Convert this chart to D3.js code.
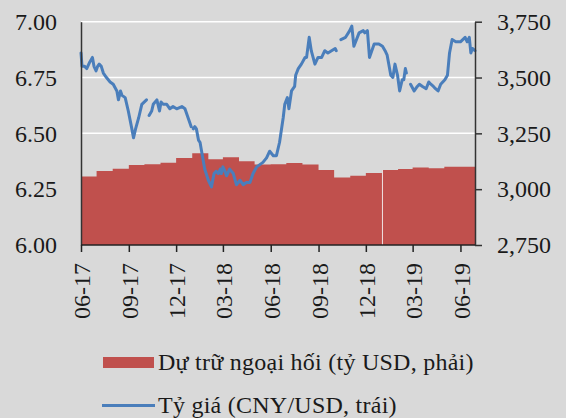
<!DOCTYPE html>
<html lang="vi">
<head>
<meta charset="UTF-8">
<title>Tỷ giá và dự trữ ngoại hối</title>
<script src="https://d3js.org/d3.v7.min.js"></script>
<style>
  body { margin: 0; background: #d9d9d9; }
  svg text { font-family: "Liberation Serif", serif; fill: #1a1a1a; }
</style>
</head>
<body>
<svg id="chart" width="566" height="418"></svg>
<script>
// du tru ngoai hoi cuoi thang (ty USD, truc phai)
var reserveMonths = ["2017-06","2017-07","2017-08","2017-09","2017-10","2017-11","2017-12",
  "2018-01","2018-02","2018-03","2018-04","2018-05","2018-06","2018-07","2018-08","2018-09",
  "2018-10","2018-11","2018-12","2019-01","2019-02","2019-03","2019-04","2019-05","2019-06"];
var reserveValues = [3057,3081,3092,3108,3112,3118,3140,3161,3134,3143,3125,3111,3112,3117,
  3111,3086,3052,3060,3072,3086,3090,3097,3094,3100,3100];
var reserveGaps = ["2019-01-01"];

// ty gia CNY/USD (truc trai), null = dut quang
var rateDates = ["2017-06-01","2017-06-03","2017-06-08","2017-06-12","2017-06-18","2017-06-23",
  "2017-06-26","2017-06-30","2017-07-03","2017-07-06","2017-07-10","2017-07-14","2017-07-20",
  "2017-07-27","2017-08-02","2017-08-09","2017-08-12","2017-08-16","2017-08-19","2017-08-25",
  "2017-08-31","2017-09-06","2017-09-10","2017-09-14","2017-09-20","2017-09-26","2017-10-05",
  "2017-10-07","2017-10-10","2017-10-15","2017-10-18","2017-10-25","2017-10-30","2017-11-02",
  "2017-11-06","2017-11-13","2017-11-19","2017-11-25","2017-12-02","2017-12-12","2017-12-18",
  "2017-12-24","2017-12-30","2018-01-01","2018-01-03","2018-01-06","2018-01-09","2018-01-13",
  "2018-01-16","2018-01-19","2018-01-25","2018-02-01","2018-02-07","2018-02-12","2018-02-16",
  "2018-02-20","2018-02-24","2018-02-26","2018-03-01","2018-03-05","2018-03-08","2018-03-14",
  "2018-03-21","2018-03-27","2018-04-03","2018-04-09","2018-04-15","2018-04-22","2018-04-28",
  "2018-05-05","2018-05-11","2018-05-17","2018-05-24","2018-05-30","2018-06-06","2018-06-12",
  "2018-06-18","2018-06-25","2018-06-28","2018-07-03","2018-07-06","2018-07-11","2018-07-17",
  "2018-07-19","2018-07-24","2018-07-30","2018-08-06","2018-08-09","2018-08-14","2018-08-18",
  "2018-08-25","2018-08-31","2018-09-07","2018-09-13","2018-09-19","2018-09-26","2018-10-03",
  "2018-10-05","2018-10-07","2018-10-14","2018-10-23","2018-10-31","2018-11-04","2018-11-08",
  "2018-11-18","2018-11-26","2018-11-29","2018-12-04","2018-12-08","2018-12-17","2018-12-26",
  "2019-01-02","2019-01-07","2019-01-11","2019-01-18","2019-01-22","2019-01-26","2019-01-31",
  "2019-02-04","2019-02-09","2019-02-12","2019-02-15","2019-02-17","2019-02-19","2019-02-25",
  "2019-03-04","2019-03-10","2019-03-14","2019-03-20","2019-03-27","2019-04-01","2019-04-05",
  "2019-04-10","2019-04-14","2019-04-19","2019-04-24","2019-05-02","2019-05-07","2019-05-11",
  "2019-05-16","2019-05-23","2019-06-01","2019-06-10","2019-06-14","2019-06-18","2019-06-21",
  "2019-06-24","2019-06-29"];
var rateValues = [6.86,6.80,6.80,6.79,6.82,6.84,
  6.80,6.78,6.80,6.81,6.80,6.77,6.75,
  6.73,6.72,6.69,6.65,6.69,6.67,6.66,
  6.60,6.53,6.48,6.52,6.57,6.63,6.65,
  null,6.58,6.60,6.63,6.65,6.60,6.64,
  6.63,6.63,6.61,6.62,6.61,6.62,6.61,
  6.57,6.53,null,6.52,6.53,6.52,6.47,
  6.46,6.42,6.34,6.29,6.26,6.32,6.33,
  6.32,6.34,6.32,6.35,6.33,6.31,6.34,
  6.32,6.27,6.29,6.27,6.28,6.28,6.32,
  6.35,6.36,6.37,6.39,6.42,6.40,6.40,
  6.46,6.57,6.63,6.66,6.61,6.69,6.71,
  6.76,6.79,6.81,6.84,6.84,6.93,6.87,
  6.81,6.84,6.84,6.87,6.86,6.87,6.88,
  6.87,null,6.92,6.93,6.96,6.98,6.89,
  6.95,6.96,6.95,6.96,6.84,6.90,6.90,
  6.89,6.87,6.85,6.76,6.75,6.81,6.76,
  6.69,6.74,6.74,6.79,6.77,null,6.72,
  6.69,6.71,6.72,6.71,6.70,6.73,6.72,
  6.71,6.70,6.69,6.72,6.74,6.76,6.86,
  6.92,6.91,6.91,6.93,6.91,6.93,6.86,
  6.88,6.87];

var leftTicks = [6.00, 6.25, 6.50, 6.75, 7.00];
var rightTicks = [2750, 3000, 3250, 3500, 3750];
var xTickLabels = ["06-17","09-17","12-17","03-18","06-18","09-18","12-18","03-19","06-19"];
var legendLabels = ["Dự trữ ngoại hối (tỷ USD, phải)", "Tỷ giá (CNY/USD, trái)"];

var barColor = "#c0504d", lineColor = "#4a7ebb";
var m = {left: 81, right: 475, top: 21.7, bottom: 245};

var parseDay = d3.timeParse("%Y-%m-%d");
var parseMonth = d3.timeParse("%Y-%m");
var parseTick = d3.timeParse("%m-%y");

var svg = d3.select("#chart");

var x = d3.scaleTime()
    .domain([parseDay("2017-06-01"), parseDay("2019-06-29")])
    .range([m.left, m.right]);
var yL = d3.scaleLinear().domain([6, 7]).range([m.bottom, m.top]);
var yR = d3.scaleLinear().domain([2750, 3750]).range([m.bottom, m.top]);

// luoi ngang
svg.append("g")
    .selectAll("line")
    .data(leftTicks.slice(1))
    .join("line")
    .attr("x1", m.left).attr("x2", m.right)
    .attr("y1", d => yL(d)).attr("y2", d => yL(d))
    .attr("stroke", "#ffffff")
    .attr("stroke-width", 1.5);

// vung du tru: bac thang theo thang
var steps = reserveMonths.map((s, i) => ({date: parseMonth(s), value: reserveValues[i]}));
steps.push({date: x.domain()[1], value: reserveValues[reserveValues.length - 1]});
var area = d3.area()
    .curve(d3.curveStepAfter)
    .x(d => x(d.date))
    .y0(m.bottom)
    .y1(d => yR(d.value));
svg.append("path")
    .datum(steps)
    .attr("d", area)
    .attr("fill", barColor);

// khe trang trong vung du tru
svg.append("g")
    .selectAll("line")
    .data(reserveGaps)
    .join("line")
    .attr("x1", d => x(parseDay(d)) + 0.5)
    .attr("x2", d => x(parseDay(d)) + 0.5)
    .attr("y1", function(d) {
        var s = steps.filter(s => s.date <= parseDay(d)).pop();
        return yR(s.value);
    })
    .attr("y2", m.bottom)
    .attr("stroke", "#efe2e2")
    .attr("stroke-width", 1);

// duong ty gia
var rates = rateDates.map((s, i) => ({date: parseDay(s), value: rateValues[i]}));
var line = d3.line()
    .defined(d => d.value !== null)
    .x(d => x(d.date))
    .y(d => yL(d.value));
svg.append("path")
    .datum(rates)
    .attr("d", line)
    .attr("fill", "none")
    .attr("stroke", lineColor)
    .attr("stroke-width", 3)
    .attr("stroke-linejoin", "round")
    .attr("stroke-linecap", "round");

// truc trai
var axL = svg.append("g")
    .attr("transform", "translate(" + m.left + ",0)")
    .call(d3.axisLeft(yL).tickValues(leftTicks).tickFormat(d3.format(".2f")).tickSize(0).tickPadding(24));
axL.select(".domain").attr("stroke", "#333").attr("stroke-width", 1.5);
axL.selectAll("text").attr("font-size", "24px").attr("font-family", "Liberation Serif");

// truc phai
var axR = svg.append("g")
    .attr("transform", "translate(" + m.right + ",0)")
    .call(d3.axisRight(yR).tickValues(rightTicks).tickFormat(d3.format(",")).tickSize(7).tickSizeOuter(0).tickPadding(15));
axR.select(".domain").attr("stroke", "#333").attr("stroke-width", 1.5);
axR.selectAll(".tick line").attr("stroke", "#333").attr("stroke-width", 1.5);
axR.selectAll("text").attr("font-size", "24px").attr("font-family", "Liberation Serif");

// truc ngang
var axB = svg.append("g")
    .attr("transform", "translate(0," + m.bottom + ")")
    .call(d3.axisBottom(x)
        .tickValues(xTickLabels.map(parseTick))
        .tickFormat(d3.timeFormat("%m-%y"))
        .tickSize(7).tickSizeOuter(0));
axB.select(".domain").attr("stroke", "#222").attr("stroke-width", 1.5)
    .attr("d", "M" + m.left + ",0H" + m.right);
axB.selectAll(".tick line").attr("stroke", "#222").attr("stroke-width", 1.5);
axB.selectAll("text")
    .attr("font-size", "24px")
    .attr("font-family", "Liberation Serif")
    .attr("text-anchor", "end")
    .attr("transform", "rotate(-90)")
    .attr("x", -18)
    .attr("y", 0)
    .attr("dy", "0.36em");

// chu giai
var lg = svg.append("g");
lg.append("rect")
    .attr("x", 103).attr("y", 357).attr("width", 51).attr("height", 11)
    .attr("fill", barColor);
lg.append("line")
    .attr("x1", 102).attr("x2", 155).attr("y1", 405.5).attr("y2", 405.5)
    .attr("stroke", lineColor).attr("stroke-width", 3);
lg.selectAll("text")
    .data(legendLabels)
    .join("text")
    .attr("x", 158)
    .attr("y", (d, i) => 362 + i * 43)
    .attr("dy", "0.35em")
    .attr("font-size", "24px")
    .attr("letter-spacing", "0.25px")
    .text(d => d);
</script>
</body>
</html>
